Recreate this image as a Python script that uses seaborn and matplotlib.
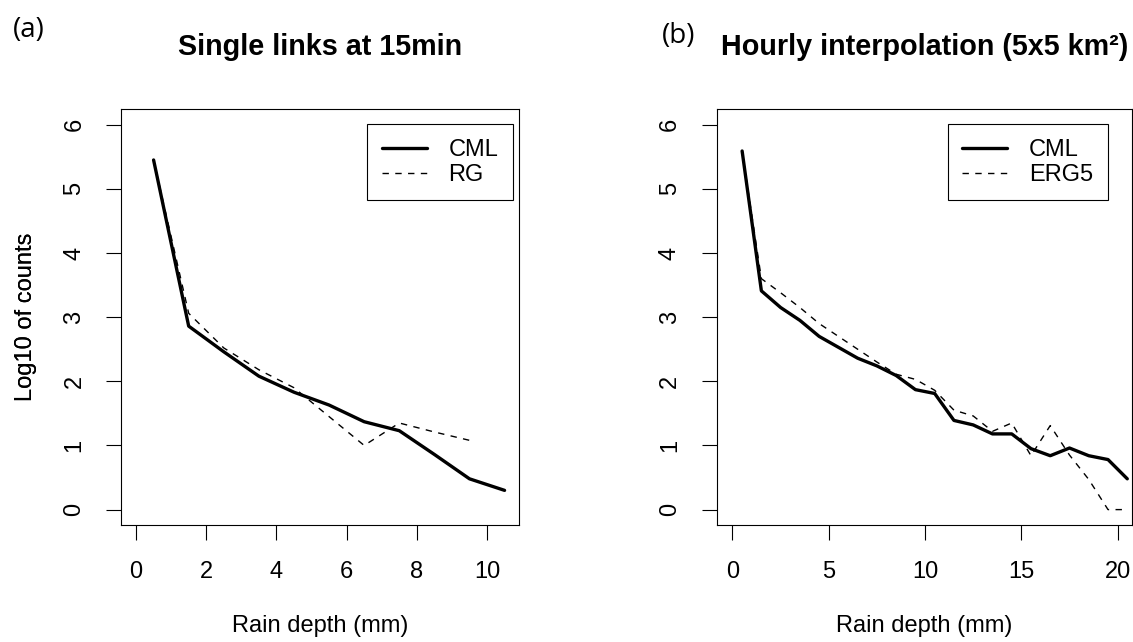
import matplotlib
matplotlib.use("Agg")
import matplotlib.pyplot as plt
import seaborn as sns
import pandas as pd

# ---------------- data ----------------
depth_a = [0.5, 1.5, 2.5, 3.5, 4.5, 5.5, 6.5, 7.5, 8.5, 9.5, 10.5]
cml_a = [5.45, 2.86, 2.46, 2.08, 1.83, 1.63, 1.37, 1.23, 0.86, 0.48, 0.30]
depth_rg = [0.5, 1.5, 2.5, 3.5, 4.5, 5.5, 6.5, 7.5, 8.5, 9.5]
rg_a = [5.45, 3.06, 2.52, 2.18, 1.90, 1.45, 1.00, 1.35, 1.21, 1.08]

depth_b = [0.5, 1.5, 2.5, 3.5, 4.5, 5.5, 6.5, 7.5, 8.5, 9.5, 10.5,
           11.5, 12.5, 13.5, 14.5, 15.5, 16.5, 17.5, 18.5, 19.5, 20.5]
cml_b = [5.59, 3.41, 3.15, 2.95, 2.70, 2.53, 2.36, 2.24, 2.09, 1.87, 1.81,
         1.39, 1.32, 1.18, 1.18, 0.95, 0.84, 0.96, 0.84, 0.78, 0.48]
erg5_b = [5.59, 3.60, 3.38, 3.15, 2.90, 2.70, 2.50, 2.30, 2.11, 2.03, 1.86,
          1.55, 1.46, 1.22, 1.35, 0.84, 1.31, 0.85, 0.47, 0.00, 0.00]

titles = ["Single links at 15min", "Hourly interpolation (5x5 km\u00b2)"]
panel_tags = ["(a)", "(b)"]
xlabel = "Rain depth (mm)"
ylabel = "Log10 of counts"
yticks = [0, 1, 2, 3, 4, 5, 6]
xticks_a = [0, 2, 4, 6, 8, 10]
xticks_b = [0, 5, 10, 15, 20]

# ---------------- style ----------------
sns.set_style("ticks")
plt.rcParams['font.family'] = ['Liberation Sans', 'DejaVu Sans']
plt.rcParams['axes.edgecolor'] = 'black'
plt.rcParams['axes.linewidth'] = 0.8
plt.rcParams['text.color'] = 'black'
plt.rcParams['axes.labelcolor'] = 'black'
plt.rcParams['xtick.color'] = 'black'
plt.rcParams['ytick.color'] = 'black'
plt.rcParams['xtick.labelcolor'] = 'black'
plt.rcParams['ytick.labelcolor'] = 'black'
plt.rcParams['legend.labelcolor'] = 'black'

W, H = 1133, 642
fig = plt.figure(figsize=(W / 100, H / 100), dpi=100)

def px_axes(l, r, t, b):
    return fig.add_axes([l / W, 1 - b / H, (r - l) / W, (b - t) / H])

ax_a = px_axes(121.3, 519.3, 109.3, 525)
ax_b = px_axes(716.7, 1131.7, 109.3, 525)

FS = 17

def draw(ax, dfs, xlim, xticks, title, leg_anchor):
    (d1, lab1), (d2, lab2) = dfs
    sns.lineplot(data=d1, x="x", y="y", ax=ax, color="black",
                 linewidth=2.4, label=lab1, estimator=None, sort=False)
    sns.lineplot(data=d2, x="x", y="y", ax=ax, color="black",
                 linewidth=1.0, label=lab2, estimator=None, sort=False)
    ax.lines[1].set_dashes((4.6, 4.6))
    ax.set_xlim(*xlim)
    ax.set_ylim(-0.24, 6.24)
    ax.set_xticks(xticks)
    ax.set_yticks(yticks)
    ax.tick_params(direction="out", length=10.8, width=0.8, pad=15,
                   labelsize=FS, colors="black")
    for lab in ax.get_yticklabels():
        lab.set_rotation(90)
        lab.set_va("center")
    for s in ax.spines.values():
        s.set_visible(True)
        s.set_linewidth(0.8)
        s.set_color("black")
    ax.set_xlabel(xlabel, fontsize=FS, color="black")
    ax.set_ylabel(ylabel, fontsize=FS, color="black")
    ax.xaxis.set_label_coords(0.5, -0.243)
    ax.xaxis.label.set_va("center")
    bb = ax.get_position()
    ax.yaxis.set_label_coords(-(bb.x0 * W - 26) / (bb.width * W), 0.5)
    ax.yaxis.label.set_va("center")
    ax.text(0.5, (525 - 47) / 415.7, title, transform=ax.transAxes,
            ha="center", va="center", fontsize=20.7, fontweight="bold",
            color="black")
    leg = ax.legend(loc="upper right", bbox_to_anchor=leg_anchor,
                    bbox_transform=ax.transAxes, borderaxespad=0,
                    fontsize=FS, frameon=True, fancybox=False,
                    edgecolor="black", framealpha=1, borderpad=0.62,
                    handlelength=1.9, handletextpad=0.92, labelspacing=0.12)
    leg.get_frame().set_linewidth(0.8)
    for t in leg.get_texts():
        t.set_color("black")
    ax.grid(False)

df_cml_a = pd.DataFrame({"x": depth_a, "y": cml_a})
df_rg_a = pd.DataFrame({"x": depth_rg, "y": rg_a})
df_cml_b = pd.DataFrame({"x": depth_b, "y": cml_b})
df_erg_b = pd.DataFrame({"x": depth_b, "y": erg5_b})

draw(ax_a, [(df_cml_a, "CML"), (df_rg_a, "RG")], (-0.42, 10.92), xticks_a,
     titles[0], ((513 - 121.3) / 398, (525 - 124.3) / 415.7))
draw(ax_b, [(df_cml_b, "CML"), (df_erg_b, "ERG5")], (-0.82, 20.73), xticks_b,
     titles[1], ((1107.7 - 716.7) / 415, (525 - 124.3) / 415.7))

fig.text(29 / W, 1 - 30 / H, panel_tags[0], ha="center", va="center",
         fontsize=20, color="black", family=["Open Sans", "DejaVu Sans"])
fig.text(679 / W, 1 - 36 / H, panel_tags[1], ha="center", va="center",
         fontsize=20, color="black", family=["Open Sans", "DejaVu Sans"])

fig.savefig("out.png", dpi=100)
